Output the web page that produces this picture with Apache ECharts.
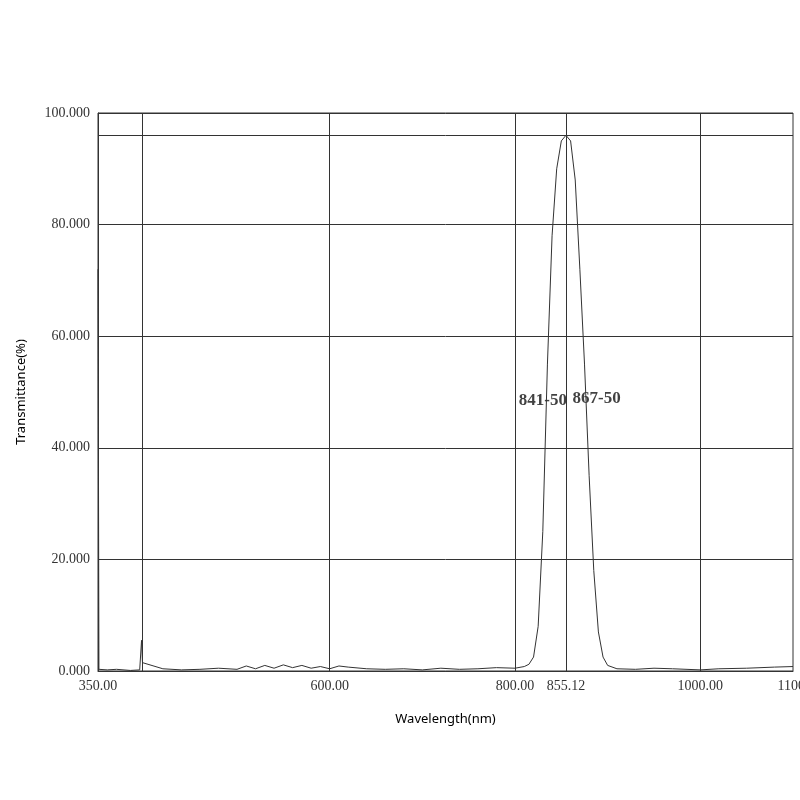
<!DOCTYPE html>
<html><head><meta charset="utf-8">
<script src="https://cdn.jsdelivr.net/npm/echarts@6/dist/echarts.min.js"></script>
<style>html,body{margin:0;padding:0;background:#fff}#c{width:800px;height:800px}</style>
</head><body><div id="c"></div>
<script>
const wavelengths = [350,351,360,370,385,395,397,398,400,420,440,460,480,500,510,520,530,540,550,560,570,580,590,600,610,620,640,660,680,700,720,740,760,780,800,810,815,820,825,830,835,840,845,850,855,860,865,870,875,880,885,890,895,900,910,930,950,970,1000,1020,1050,1080,1100];
const transmittance = [72,0.3,0.2,0.3,0.1,0.2,5.5,1.5,1.8,0.4,0.2,0.3,0.5,0.3,0.9,0.4,1.0,0.5,1.1,0.6,1.0,0.5,0.8,0.4,0.9,0.7,0.4,0.3,0.4,0.2,0.5,0.3,0.4,0.6,0.5,0.8,1.2,2.5,8,25,55,78,90,95,96,95,88,72,55,35,18,7,2.5,1,0.4,0.3,0.5,0.4,0.2,0.4,0.5,0.7,0.8];
const xTicks = [350,600,800,855.12,1000,1100];
const xTickLabels = ['350.00','600.00','800.00','855.12','1000.00','1100.'];
const xGridLines = [398,600,800,855.12,1000];
const refLine = 96;
const annotations = [{x:830,y:48.5,text:'841-50'},{x:888,y:48.8,text:'867-50'}];

const serif = 'Liberation Serif';
const chart = echarts.init(document.getElementById('c'));
chart.setOption({
  animation:false,
  grid:{left:98,right:7,top:113,bottom:129,show:true,borderColor:'#333',borderWidth:1,outerBoundsMode:'none',containLabel:false},
  xAxis:{type:'value',min:350,max:1100,
    name:'Wavelength(nm)',nameLocation:'middle',nameGap:42,nameTextStyle:{color:'#000',fontSize:13,fontFamily:'Noto Sans'},
    axisLine:{lineStyle:{color:'#333'}},splitLine:{show:false},
    axisTick:{show:false},
    axisLabel:{customValues:xTicks,color:'#333',fontFamily:serif,fontSize:14,
      formatter:v=>{const i=xTicks.indexOf(v);return i>=0?xTickLabels[i]:'';}}},
  yAxis:{type:'value',min:0,max:100,interval:20,
    name:'Transmittance(%)',nameLocation:'middle',nameGap:70,nameTextStyle:{color:'#000',fontSize:13,fontFamily:'Noto Sans'},
    axisLine:{show:true,lineStyle:{color:'#333'}},axisTick:{show:false},
    splitLine:{lineStyle:{color:'#333',width:1}},
    axisLabel:{color:'#333',fontFamily:serif,fontSize:14,formatter:v=>v.toFixed(3)}},
  series:[{type:'line',data:wavelengths.map((w,i)=>[w,transmittance[i]]),
    showSymbol:false,lineStyle:{color:'#333',width:1},
    markLine:{silent:true,symbol:'none',label:{show:false},lineStyle:{color:'#333',type:'solid',width:1},
      data:xGridLines.map(v=>({xAxis:v})).concat([{yAxis:refLine}])}},
   {type:'scatter',symbolSize:0,data:annotations.map(a=>[a.x,a.y,a.text]),
    label:{show:true,formatter:p=>p.data[2],color:'#111',fontFamily:serif,fontWeight:'bold',fontSize:17,position:'inside'}}]
});
</script></body></html>
